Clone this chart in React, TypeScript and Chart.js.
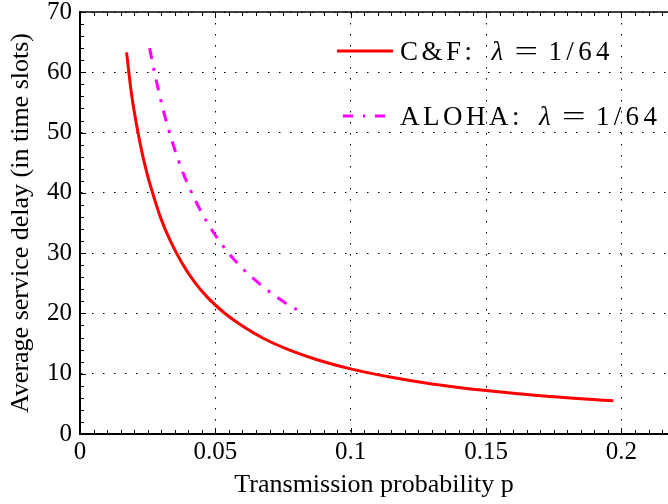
import React, { useEffect, useRef } from 'react';
import { Chart, registerables } from 'chart.js';
Chart.register(...registerables);

// ---- data ----
const cfP = [0.0172, 0.019, 0.021, 0.023, 0.025, 0.0275, 0.030, 0.0335, 0.0375, 0.042, 0.047, 0.053, 0.060, 0.068, 0.077, 0.087, 0.100, 0.115, 0.130, 0.150, 0.170, 0.197];
const cfDelay = [63.3, 56.5, 51.0, 46.5, 42.8, 39.0, 35.6, 31.9, 28.5, 25.4, 22.7, 20.2, 17.9, 15.8, 14.0, 12.4, 10.8, 9.4, 8.3, 7.2, 6.35, 5.5];
const alohaP = [0.0257, 0.028, 0.031, 0.034, 0.038, 0.042, 0.047, 0.052, 0.058, 0.064, 0.070, 0.076, 0.081];
const alohaDelay = [64.0, 59.0, 53.3, 48.6, 43.4, 39.3, 35.1, 31.7, 28.4, 25.8, 23.6, 21.7, 20.4];
const xTicks = [0, 0.05, 0.1, 0.15, 0.2];
const yTicks = [0, 10, 20, 30, 40, 50, 60, 70];
const legendPrefixes = ['C\u0026F:', 'ALOHA:'];
const legendRate = '1/64';
const xTitle = 'Transmission probability p';
const yTitle = 'Average service delay (in time slots)';

const X_MAX = 0.2172;
const Y_MAX = 70;
const FONT = '"Liberation Serif", "DejaVu Serif", serif';

const boxPlugin = {
  id: 'boxTicks',
  afterDraw(chart: any) {
    const { ctx, chartArea, scales } = chart;
    const xs = scales.x;
    const ys = scales.y;
    ctx.save();
    ctx.strokeStyle = '#000';
    ctx.lineWidth = 1.5;
    ctx.beginPath();
    ctx.moveTo(chartArea.left, chartArea.top);
    ctx.lineTo(chartArea.right, chartArea.top);
    ctx.stroke();
    ctx.lineWidth = 1;
    for (let i = 0; i * 0.005 <= X_MAX + 1e-9; i++) {
      const v = i * 0.005;
      const px = Math.round(xs.getPixelForValue(v)) + 0.5;
      const len = i % 10 === 0 ? 6 : 4;
      ctx.beginPath();
      ctx.moveTo(px, chartArea.bottom);
      ctx.lineTo(px, chartArea.bottom - len);
      ctx.moveTo(px, chartArea.top);
      ctx.lineTo(px, chartArea.top + len);
      ctx.stroke();
    }
    for (let v = 0; v <= Y_MAX; v += 2) {
      const py = Math.round(ys.getPixelForValue(v)) + 0.5;
      const len = v % 10 === 0 ? 6 : 4;
      ctx.beginPath();
      ctx.moveTo(chartArea.left, py);
      ctx.lineTo(chartArea.left + len, py);
      ctx.stroke();
    }
    // legend
    const rows = [
      { prefix: legendPrefixes[0], color: '#ff0000', dash: [] as number[] },
      { prefix: legendPrefixes[1], color: '#ff00ff', dash: [10, 10, 2, 10] },
    ];
    const lx0 = chartArea.left + 257;
    const lx1 = lx0 + 56;
    const tx = lx1 + 7;
    rows.forEach((r, i) => {
      const y = chartArea.top + 39 + i * 65;
      ctx.save();
      ctx.strokeStyle = r.color;
      ctx.lineWidth = 3;
      ctx.setLineDash(r.dash);
      ctx.lineDashOffset = i === 1 ? 26 : 0;
      ctx.beginPath();
      ctx.moveTo(lx0, y);
      ctx.lineTo(lx1, y);
      ctx.stroke();
      ctx.restore();
      const ty = y + 2;
      ctx.fillStyle = '#000';
      ctx.textBaseline = 'middle';
      ctx.textAlign = 'left';
      let x = tx;
      ctx.font = `27px ${FONT}`;
      (ctx as any).letterSpacing = '3.5px';
      ctx.fillText(r.prefix, x, ty);
      x += ctx.measureText(r.prefix).width + 16;
      (ctx as any).letterSpacing = '0px';
      ctx.font = `italic 27px ${FONT}`;
      ctx.fillText('\u03bb', x, ty);
      x += 23;
      ctx.font = `27px ${FONT}`;
      ctx.save();
      ctx.translate(x, ty);
      ctx.scale(1.55, 1);
      ctx.fillText('=', 0, 0);
      ctx.restore();
      x += 34;
      (ctx as any).letterSpacing = '4.3px';
      ctx.fillText(legendRate, x, ty);
      (ctx as any).letterSpacing = '0px';
    });
    ctx.restore();
  },
};

export default function App() {
  const ref = useRef<HTMLCanvasElement>(null);
  useEffect(() => {
    const chart = new Chart(ref.current!, {
      type: 'line',
      data: {
        datasets: [
          {
            label: 'C&F',
            data: cfP.map((p, i) => ({ x: p, y: cfDelay[i] })),
            borderColor: '#ff0000',
            borderWidth: 3,
            pointRadius: 0,
            cubicInterpolationMode: 'monotone',
            fill: false,
          },
          {
            label: 'ALOHA',
            data: alohaP.map((p, i) => ({ x: p, y: alohaDelay[i] })),
            borderColor: '#ff00ff',
            borderWidth: 3,
            borderDash: [11, 9, 3, 9],
            pointRadius: 0,
            cubicInterpolationMode: 'monotone',
            fill: false,
          },
        ],
      },
      options: {
        animation: false,
        responsive: false,
        maintainAspectRatio: false,
        layout: { padding: { top: 12, right: 0, left: 0, bottom: 0 } },
        plugins: { legend: { display: false }, tooltip: { enabled: false } },
        scales: {
          x: {
            type: 'linear',
            min: 0,
            max: X_MAX,
            afterBuildTicks: (s: any) => { s.ticks = xTicks.map((v) => ({ value: v })); },
            afterFit: (s: any) => { s.height = 70; s.paddingLeft = 0; s.paddingRight = 0; },
            ticks: {
              color: '#000',
              font: { family: FONT, size: 25 },
              padding: 3,
              maxRotation: 0,
              callback: (v: any) => String(v),
            },
            grid: { color: '#000', lineWidth: 1, drawTicks: false },
            border: { display: true, color: '#000', width: 2, dash: [1.5, 9.5] },
            title: {
              display: true,
              text: xTitle,
              color: '#000',
              font: { family: FONT, size: 26 },
              padding: { top: 0, bottom: 3 },
            },
          },
          y: {
            type: 'linear',
            min: 0,
            max: Y_MAX,
            afterBuildTicks: (s: any) => { s.ticks = yTicks.map((v) => ({ value: v })); },
            afterFit: (s: any) => { s.width = 80; s.paddingTop = 0; s.paddingBottom = 0; },
            ticks: {
              color: '#000',
              font: { family: FONT, size: 25 },
              padding: 8,
              callback: (v: any) => String(v),
            },
            grid: { color: '#000', lineWidth: 1, drawTicks: false },
            border: { display: true, color: '#000', width: 2, dash: [1.5, 9.5] },
            title: {
              display: true,
              text: yTitle,
              color: '#000',
              font: { family: FONT, size: 26 },
              padding: { top: 6, bottom: 0 },
            },
          },
        },
      },
      plugins: [boxPlugin],
    } as any);
    return () => chart.destroy();
  }, []);
  return (
    <div style={{ position: 'fixed', left: 0, top: 0, width: 668, height: 504, background: '#fff' }}>
      <canvas ref={ref} width={668} height={504} style={{ width: 668, height: 504 }} />
    </div>
  );
}
